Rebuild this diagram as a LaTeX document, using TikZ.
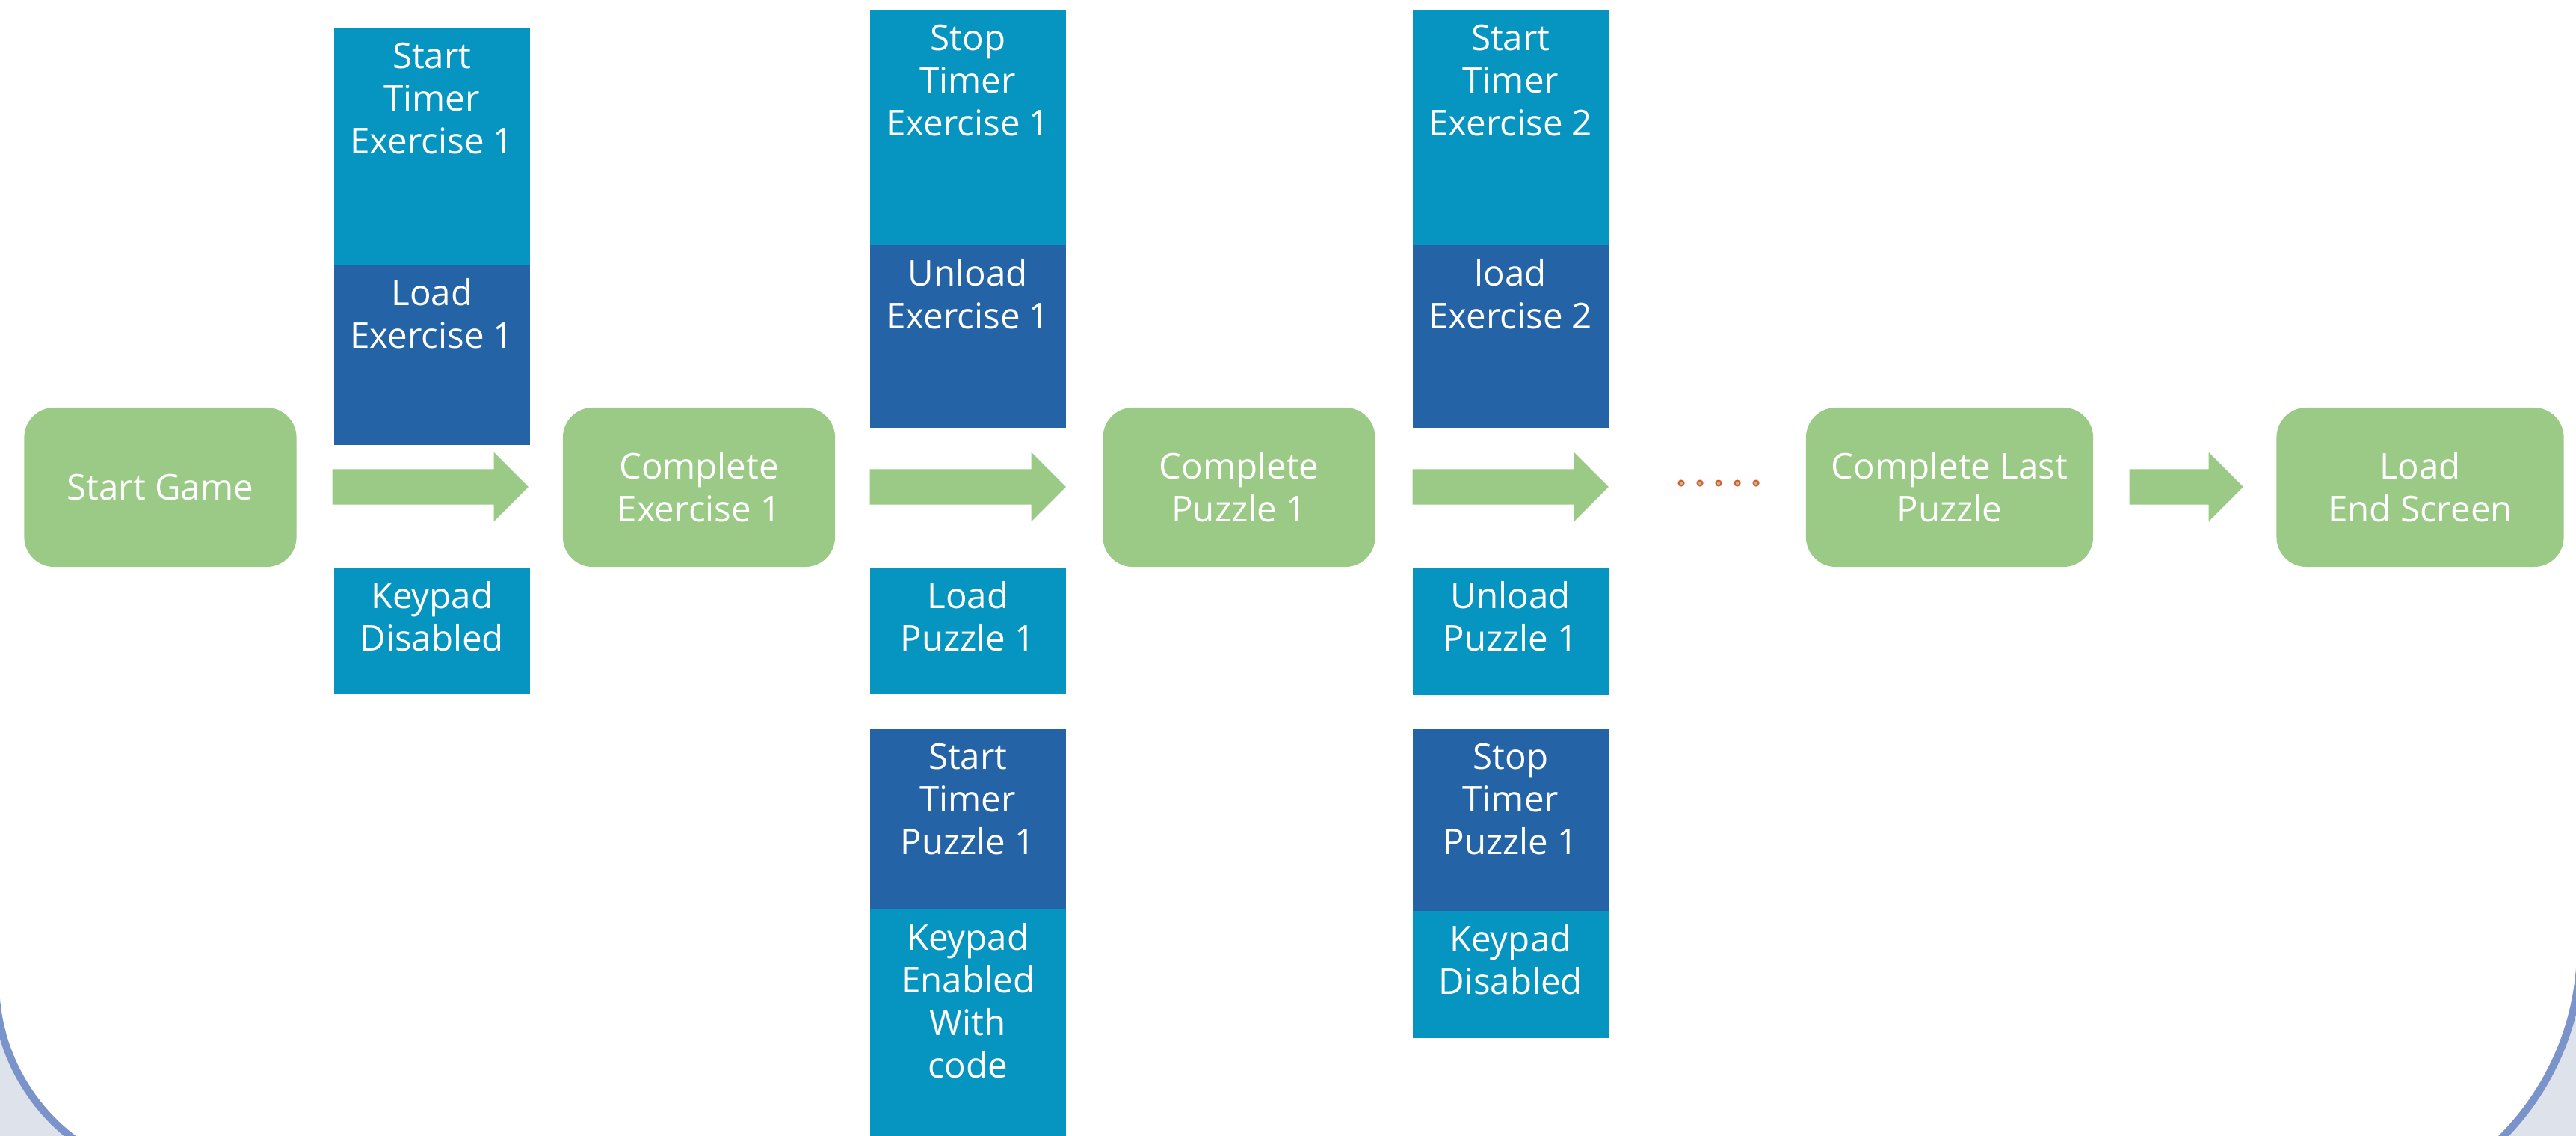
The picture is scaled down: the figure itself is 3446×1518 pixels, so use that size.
\documentclass[tikz,border=0pt]{standalone}
\usepackage{fontspec}
\setmainfont{Open Sans}
\usepackage{xcolor}
\usetikzlibrary{shapes.arrows}
\definecolor{stepgreen}{HTML}{9ACA86}
\definecolor{lightpanel}{HTML}{0595C0}
\definecolor{darkpanel}{HTML}{2463A6}
\definecolor{rimblue}{HTML}{7A93CB}
\definecolor{rimgrey}{HTML}{DEE3EB}
\definecolor{dotred}{HTML}{E8532B}

\begin{document}
\begin{tikzpicture}[x=0.01cm, y=-0.01cm]
\tikzstyle{every node}=[font=\fontsize{13.5}{16.2}\selectfont, text=white,
                        inner sep=0pt]
\tikzstyle{stepbox}=[rectangle, rounded corners=0.4cm, fill=stepgreen,
                     minimum width=3.64cm, minimum height=2.13cm, align=center]
\tikzstyle{lpanel}=[rectangle, fill=lightpanel, minimum width=2.62cm, anchor=north west]
\tikzstyle{dpanel}=[lpanel, fill=darkpanel]
\tikzstyle{ptext}=[anchor=north, align=center, yshift=-0.19cm]
\tikzstyle{flow}=[single arrow, fill=stepgreen, inner ysep=0.23cm, inner xsep=0pt,
                  single arrow head extend=0.225cm, single arrow tip angle=90,
                  anchor=tail]
\useasboundingbox (0,0) rectangle (3446,1518);
\clip (0,0) rectangle (3446,1518);
\fill[white] (0,0) rectangle (3446,1518);
% frame corners at the bottom
\fill[rimgrey] (-20,1313) -- (-6,1313) arc (180:90:263) -- (-20,1576) -- cycle;
\fill[rimgrey] (3470,1267) -- (3452,1267) arc (0:90:360) -- (3470,1627) -- cycle;
\draw[rimblue, line width=0.1cm] (-6,1000) -- (-6,1313) arc (180:90:263) -- ++(100,0);
\draw[rimblue, line width=0.1cm] (3452,1000) -- (3452,1267) arc (0:90:360) -- ++(-100,0);
% main steps
\node[stepbox] (sg) at (214.5,651.5) {Start Game};
\node[stepbox] (ce) at (935,651.5) {Complete\\Exercise 1};
\node[stepbox] (cp) at (1657.5,651.5) {Complete\\Puzzle 1};
\node[stepbox, minimum width=3.84cm] (cl) at (2608,651.5) {Complete Last\\Puzzle};
\node[stepbox, minimum width=3.84cm] (le) at (3237.5,651.5) {Load\\End Screen};
\foreach \n/\x/\len in {1/444/2.62, 2/1163/2.62, 3/1889/2.62, 4/2848/1.52}
  {\node[flow, minimum height=\len cm] (ar\n) at (\x,651) {};}
\foreach \x [count=\i] in {2249,2274,2299,2324,2349}
  {\node[circle, draw=dotred, fill=stepgreen, line width=0.02cm, minimum size=0.07cm] (d\i) at (\x,646) {};}
% first column
\node[lpanel, minimum height=3.16cm] (a1) at (446,37) {};
\node[ptext] (a1t) at (a1.north) {Start\\Timer\\Exercise 1};
\node[dpanel, minimum height=2.41cm] (a2) at (446,353) {};
\node[ptext] (a2t) at (a2.north) {Load\\Exercise 1};
\node[lpanel, minimum height=1.69cm] (a3) at (446,758) {};
\node[ptext] (a3t) at (a3.north) {Keypad\\Disabled};
% second column
\node[lpanel, minimum height=3.14cm] (b1) at (1163,13) {};
\node[ptext] (b1t) at (b1.north) {Stop\\Timer\\Exercise 1};
\node[dpanel, minimum height=2.44cm] (b2) at (1163,327) {};
\node[ptext] (b2t) at (b2.north) {Unload\\Exercise 1};
\node[lpanel, minimum height=1.69cm] (b3) at (1163,758) {};
\node[ptext] (b3t) at (b3.north) {Load\\Puzzle 1};
\node[dpanel, minimum height=2.41cm] (b4) at (1163,974) {};
\node[ptext] (b4t) at (b4.north) {Start\\Timer\\Puzzle 1};
\node[lpanel, minimum height=3.2cm] (b5) at (1163,1215) {};
\node[ptext] (b5t) at (b5.north) {Keypad\\Enabled\\With\\code};
% third column
\node[lpanel, minimum height=3.14cm] (c1) at (1889,13) {};
\node[ptext] (c1t) at (c1.north) {Start\\Timer\\Exercise 2};
\node[dpanel, minimum height=2.44cm] (c2) at (1889,327) {};
\node[ptext] (c2t) at (c2.north) {load\\Exercise 2};
\node[lpanel, minimum height=1.70cm] (c3) at (1889,758) {};
\node[ptext] (c3t) at (c3.north) {Unload\\Puzzle 1};
\node[dpanel, minimum height=2.43cm] (c4) at (1889,974) {};
\node[ptext] (c4t) at (c4.north) {Stop\\Timer\\Puzzle 1};
\node[lpanel, minimum height=1.70cm] (c5) at (1889,1217) {};
\node[ptext] (c5t) at (c5.north) {Keypad\\Disabled};
\end{tikzpicture}
\end{document}
